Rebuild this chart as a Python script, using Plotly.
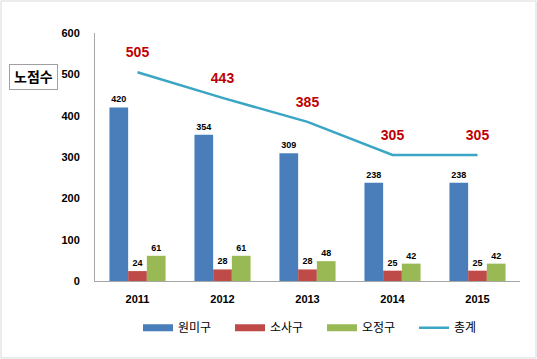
import plotly.graph_objects as go

years = ["2011", "2012", "2013", "2014", "2015"]
wonmi = [420, 354, 309, 238, 238]
sosa = [24, 28, 28, 25, 25]
ojeong = [61, 61, 48, 42, 42]
total = [505, 443, 385, 305, 305]

names = ["원미구", "소사구", "오정구", "총계"]
colors = ["#4a7ebb", "#be4b48", "#98b954", "#3aa5c4"]

FONT = "Liberation Sans, Noto Sans CJK KR, sans-serif"

fig = go.Figure()
for vals, nm, col in zip([wonmi, sosa, ojeong], names[:3], colors[:3]):
    fig.add_trace(go.Bar(
        x=years, y=vals, name=nm, marker=dict(color=col, line=dict(width=0)),
        text=[str(v) for v in vals], textposition="outside",
        textfont=dict(size=9, color="#000", family=FONT, weight="bold"),
        cliponaxis=False, showlegend=False,
    ))

fig.add_trace(go.Scatter(
    x=years, y=total, name=names[3], mode="lines+markers+text",
    line=dict(color=colors[3], width=2.5),
    marker=dict(size=17, color="rgba(0,0,0,0)"),
    text=[str(v) for v in total], textposition="top center",
    textfont=dict(size=14, color="#c00000", family=FONT, weight="bold"),
    cliponaxis=False, showlegend=False,
))

# legend entries (wide swatches)
for nm, col, w in zip(names, colors, [7, 7, 7, 2.5]):
    fig.add_trace(go.Scatter(
        x=[None], y=[None], mode="lines", name=nm,
        line=dict(color=col, width=w), showlegend=True,
    ))

fig.add_annotation(xref="paper", yref="paper", x=(33 - 95) / 425, y=(281 - 77) / 248,
                   xanchor="center", yanchor="middle",
                   text="노점수", showarrow=False,
                   font=dict(size=14, color="#000", family=FONT, weight="bold"),
                   bordercolor="#a0a0a0", borderwidth=1, borderpad=4,
                   bgcolor="white")

# outer border
fig.add_shape(type="rect", xref="paper", yref="paper",
              x0=(1 - 95) / 425, x1=(536 - 95) / 425,
              y0=-(358 - 281) / 248, y1=(281 - 1) / 248,
              line=dict(color="#d9d9d9", width=1))

fig.update_layout(
    width=537, height=359,
    margin=dict(l=95, r=17, t=33, b=78, autoexpand=False),
    paper_bgcolor="white", plot_bgcolor="white",
    barmode="group", bargap=0.34, bargroupgap=0,
    font=dict(family=FONT, size=11, color="#000"),
    showlegend=True,
    legend=dict(orientation="h", x=(138 - 95) / 425, xanchor="left", y=-0.13, yanchor="top",
                font=dict(size=12, family=FONT), itemwidth=30,
                entrywidth=47, entrywidthmode="pixels",
                traceorder="normal"),
    xaxis=dict(type="category", categoryorder="array", categoryarray=years,
               range=[-0.5, 4.5], showline=True, linecolor="#a6a6a6", linewidth=1,
               tickfont=dict(size=11, family=FONT, weight="bold"), ticks="",
               automargin=False, showgrid=False, ticklabelstandoff=8),
    yaxis=dict(range=[0, 600], dtick=100, showline=True, linecolor="#a6a6a6",
               linewidth=1, showgrid=False, zeroline=False, automargin=False,
               tickfont=dict(size=11, family=FONT, weight="bold"), ticks="",
               ticklabelstandoff=12),
)

fig.write_html("out.html", config={"displayModeBar": False},
               post_script="document.body.style.margin='0px';")
